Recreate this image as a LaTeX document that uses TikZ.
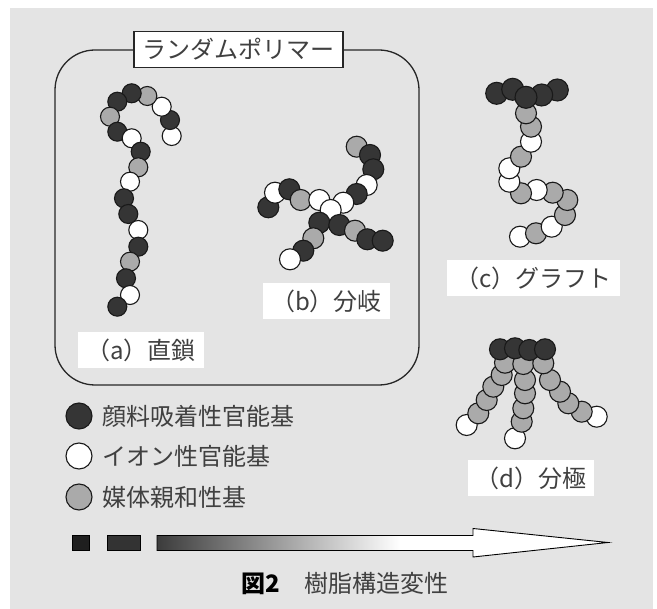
\documentclass[tikz,border=0pt]{standalone}
\usepackage{fontspec}
\setmainfont{Noto Sans CJK JP}
\definecolor{bg}{HTML}{E4E4E4}
\definecolor{cd}{HTML}{353535}
\definecolor{cg}{HTML}{AAAAAA}
\definecolor{cw}{HTML}{FFFFFF}
\definecolor{ink}{HTML}{404040}
\definecolor{fadedark}{HTML}{3C3C3C}
% dark at the tail, fading to white a little past the middle of the arrow
\pgfdeclarehorizontalshading{arrowfade}{100bp}{color(0bp)=(fadedark); color(25bp)=(fadedark); color(52bp)=(white); color(100bp)=(white)}

\begin{document}
\begin{tikzpicture}[x=1pt,y=-1pt,
  bead/.style={circle,draw=black!90,line width=1.1pt,inner sep=0pt,minimum size=19pt},
  bigbead/.style={bead,minimum size=21pt},
  tag/.style={fill=white,text=ink,font=\fontsize{24}{27}\selectfont,inner xsep=8pt,inner ysep=5pt,minimum height=36pt},
  legtext/.style={anchor=west,inner sep=0pt,text=ink,font=\fontsize{24}{27}\selectfont},
  legdot/.style={bead,minimum size=26pt}]

\useasboundingbox (0,0) rectangle (657,609);
\fill[bg] (10,8) rectangle (653,609);

% frame around the random polymers
\draw[line width=1.3pt,black!85,rounded corners=40pt] (55,50) rectangle (419,385);
\node[tag,draw=black!85,line width=1.3pt,minimum width=209pt] (title) at (238.5,49.5) {ランダムポリマー};

% (a) linear chain
\foreach \x/\y/\c [count=\i] in {171.7/136/cw,170/120/cd,161.7/106.7/cw,147.3/96/cg,131.7/93.3/cd,
  117.3/101.7/cd,110/116.7/cg,117.3/131.7/cd,131.7/138.3/cw,140.7/151.7/cd,138.3/167.3/cg,
  130/181.7/cw,124/198.3/cd,128.3/214/cd,138.3/230/cw,138.3/246.7/cd,130/261.7/cg,
  126/278.3/cd,130/295/cw,117.3/306.7/cd}
  \node[bead,fill=\c] (a\i) at (\x,\y) {};
\node[tag] (la) at (141,350) {（a）直鎖};

% (b) branched chain
\foreach \x/\y/\c [count=\i] in {268.3/207.3/cd,275/192.7/cw,289.3/189.3/cd,300.7/200/cg,319.3/200/cw,
  356.7/146.7/cg,370/155/cd,373.3/169.3/cd,366.7/185/cw,356.7/194/cd,343.3/202.7/cw,
  330.7/210/cw,
  319.3/222.7/cd,313.3/238.3/cg,303.3/250.7/cd,290/259.3/cw,
  339.3/225/cd,355/230.7/cg,367.3/239.3/cd,382.7/240.7/cd}
  \node[bigbead,fill=\c] (b\i) at (\x,\y) {};
\node[tag] (lb) at (326.5,301) {（b）分岐};

% (c) graft
\foreach \x/\y/\c [count=\i] in {520/236.7/cw,536/233.3/cg,551.7/226.7/cw,565/215/cg,567.3/200/cg,
  552.7/192.7/cg,536.7/190/cw,521/193.3/cg,509.3/181.7/cw,509.3/168.3/cw,521/156.7/cg,
  531/141.7/cw,531/126.7/cg,526/113.3/cg}
  \node[bigbead,fill=\c] (c\i) at (\x,\y) {};
\foreach \x/\y [count=\i] in {496.7/93.3,512.7/89.3,557.3/90,541.7/95,526/97.3}
  \node[bigbead,minimum size=22pt,fill=cd] (ct\i) at (\x,\y) {};
\node[tag] (lc) at (533.5,278.5) {（c）グラフト};

% (d) star-like chain
\foreach \x/\y/\c [count=\i] in {466.7/425/cw,478.3/413.3/cg,486.7/400/cg,493.3/386.7/cg,501.7/375/cg,505/362.7/cg,
  515/438.3/cw,521.7/421.7/cg,523.3/408.3/cg,525/393.3/cg,525/380/cg,523.3/364/cg,
  596.7/416.7/cw,581.7/411.7/cg,568.3/403.3/cg,560/391.7/cg,550/380/cg,543.3/363.3/cg}
  \node[bigbead,fill=\c] (d\i) at (\x,\y) {};
\foreach \x/\y [count=\i] in {500/349.3,515/348.3,529.3/350,545/349.3}
  \node[bigbead,fill=cd] (dt\i) at (\x,\y) {};
\node[tag] (ld) at (531,478.5) {（d）分極};

% legend
\node[legdot,fill=cd] (k1) at (79,416) {};
\node[legtext] (k1t) at (102,416) {顔料吸着性官能基};
\node[legdot,fill=cw] (k2) at (79,456) {};
\node[legtext] (k2t) at (102,456) {イオン性官能基};
\node[legdot,fill=cg] (k3) at (79,497) {};
\node[legtext] (k3t) at (102,497) {媒体親和性基};

% progression arrow
\node[fill=black!88,draw=black,line width=0.6pt,inner sep=0pt,minimum width=17pt,minimum height=15.5pt] (sq1) at (81,543) {};
\node[fill=black!80,draw=black,line width=0.6pt,inner sep=0pt,minimum width=33pt,minimum height=15.5pt] (sq2) at (123.5,543) {};
\shade[shading=arrowfade,draw=black,line width=0.9pt]
  (157,535.5) -- (473,535.5) -- (473,528.5) -- (608,542.5) -- (473,557) -- (473,550.5) -- (157,550.5) -- cycle;

% caption
\node[text=ink,font=\fontsize{24}{27}\selectfont,inner sep=0pt] (cap) at (345,584) {{\color{black}\bfseries 図2}　樹脂構造変性};
\end{tikzpicture}
\end{document}
